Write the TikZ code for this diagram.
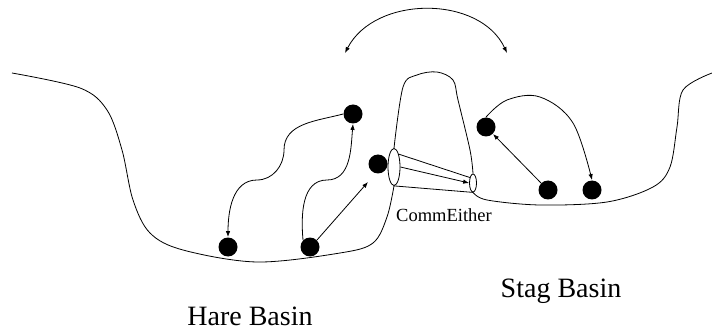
\documentclass[tikz,border=0pt]{standalone}
\usepackage{fontspec}
\setmainfont{Liberation Serif}
\usetikzlibrary{shapes.geometric,arrows.meta}

\begin{document}
\begin{tikzpicture}[x=1pt,y=-1pt,line width=0.8pt,
	dot/.style={circle,fill=black,minimum size=19pt,inner sep=0pt},
	mouth/.style={ellipse,draw,fill=white,inner sep=0pt},
	move/.style={-{Latex[length=6pt,width=4.5pt]}},
	basin/.style={font=\fontsize{28}{30}\selectfont}]
		\useasboundingbox (0,0) rectangle (712,331);
		% the two openings of the channel between the basins
		\node[mouth,minimum width=12pt,minimum height=37pt] (bigEnd) at (394,167) {};
		\node[mouth,minimum width=7pt,minimum height=18pt] (smallEnd) at (473,183) {};
		% landscape
		\draw plot[smooth,tension=0.55] coordinates {(12,73) (80,88) (107,110) (122,150) (133,200) (150,233) (183,250) (257,262) (340,253) (373,243) (387,217) (bigEnd.south)};
		\draw plot[smooth,tension=0.55] coordinates {(bigEnd.north) (403,87) (417,75) (437,72) (453,80) (458,100) (470,150) (smallEnd.north)};
		\draw plot[smooth,tension=0.55] coordinates {(smallEnd.south) (487,200) (540,205) (607,202) (653,187) (670,167) (677,127) (683,90) (712,73)};
		% channel
		\draw (bigEnd.70) -- (smallEnd.120);
		\draw[move] (bigEnd.east) -- (smallEnd.west);
		\draw (bigEnd.south) -- (smallEnd.south);
		% states
		\node[dot] (hareTop) at (353,114) {};
		\node[dot] (hareLeft) at (228,247) {};
		\node[dot] (hareRight) at (310,247) {};
		\node[dot] (hareEdge) at (378,164) {};
		\node[dot] (stagTop) at (486,127) {};
		\node[dot] (stagLeft) at (548,190) {};
		\node[dot] (stagRight) at (592,190) {};
		% moves inside the basins
		\draw[move] (hareTop.west) to[out=195,in=90] (284,150) to[out=-90,in=0] (257,180) to[out=180,in=90] (hareLeft.north);
		\draw[move] (hareRight.north west) to[out=95,in=180] (327,180) to[out=0,in=-95] (hareTop.south);
		\draw[move] (hareRight.north east) -- (368,182);
		\draw[move] (stagLeft.north west) -- (stagTop.south east);
		\draw[move] plot[smooth,tension=0.6] coordinates {(stagTop.north) (507,100) (540,97) (573,123) (stagRight.north)};
		% jump between the basins
		\coordinate (jumpL) at (345,53);
		\coordinate (jumpR) at (507,53);
		\draw[{Latex[length=6pt,width=4.5pt]}-{Latex[length=6pt,width=4.5pt]}] (jumpL) .. controls (375,-5) and (480,-5) .. (jumpR);
		% labels
		\node[font=\fontsize{18.5}{20}\selectfont] (commLbl) at (444,215) {CommEither};
		\node[basin] (hareLbl) at (250,316) {Hare Basin};
		\node[basin] (stagLbl) at (561,291) {Stag Basin};
	\end{tikzpicture}
\end{document}
